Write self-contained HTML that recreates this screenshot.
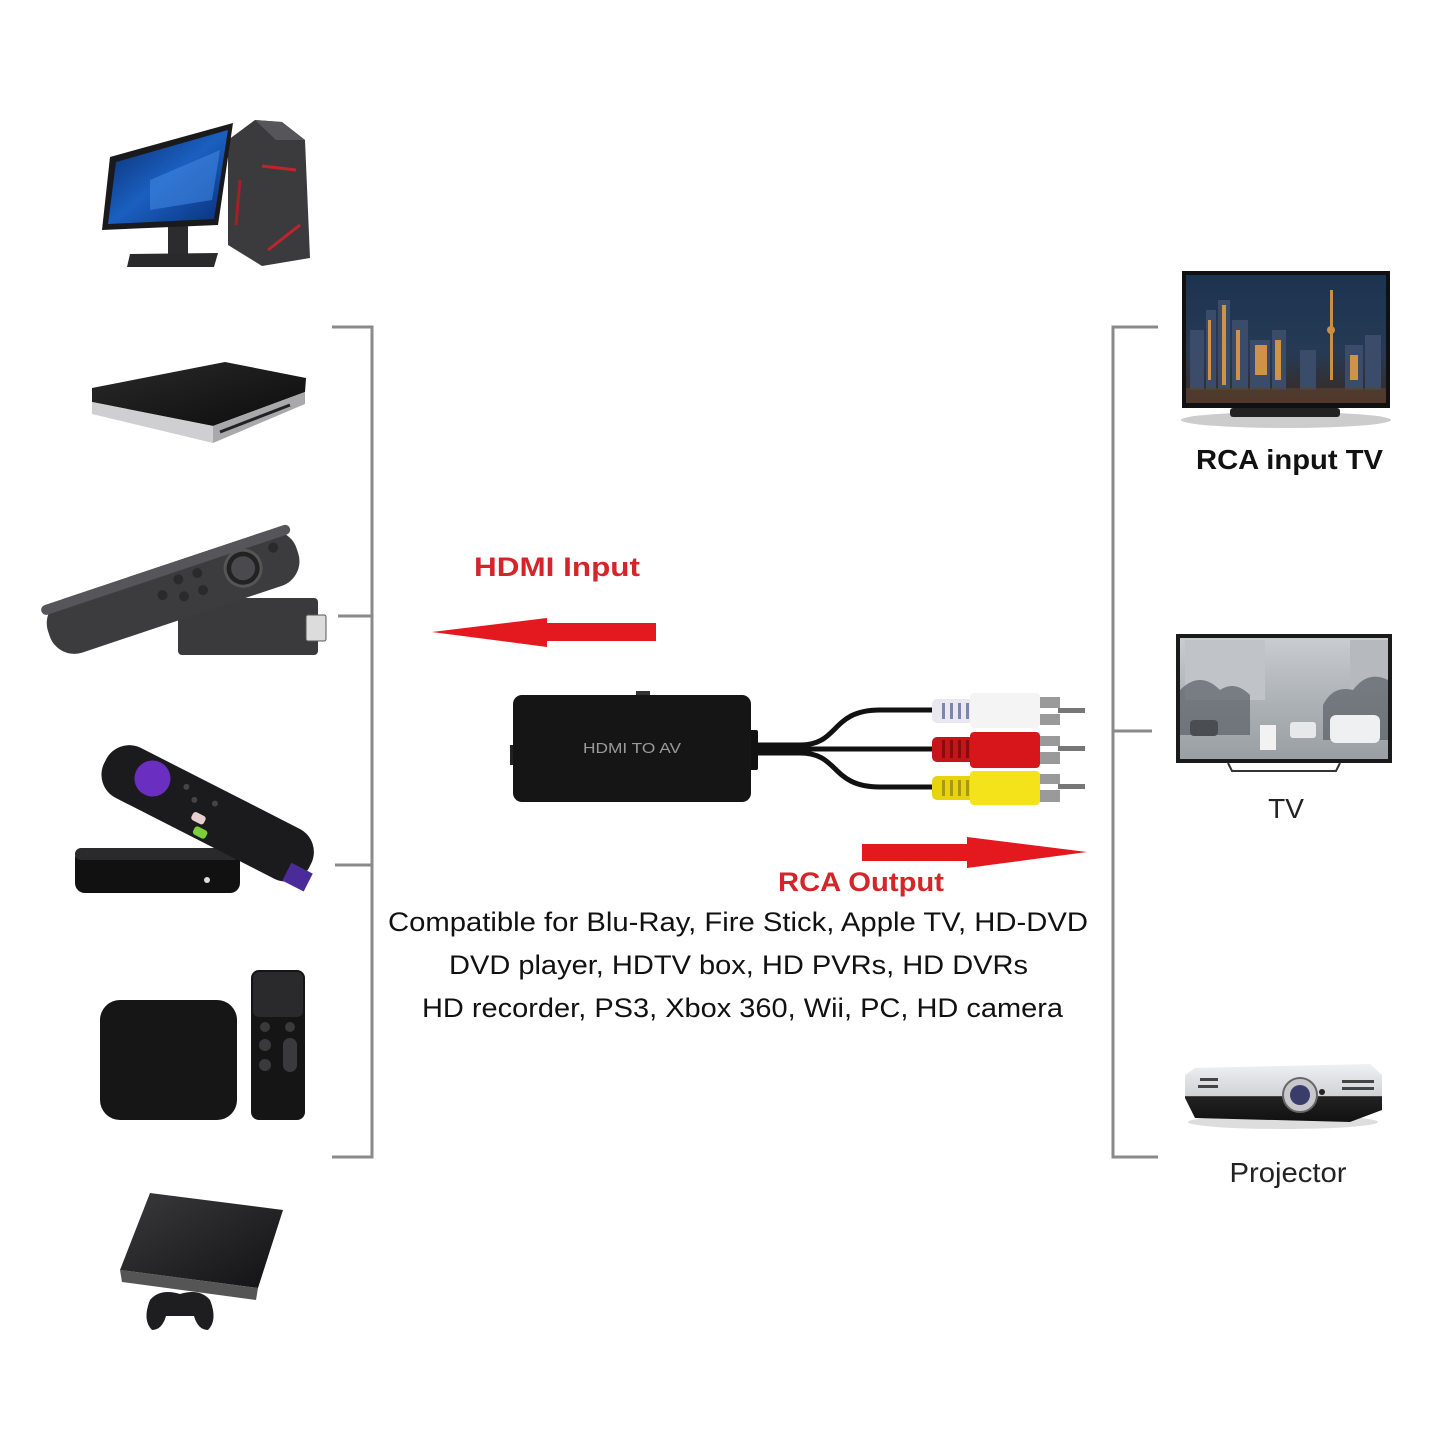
<!DOCTYPE html>
<html><head><meta charset="utf-8"><style>
html,body{margin:0;padding:0;background:#fff;}
svg{display:block;}
</style></head><body>
<svg width="1445" height="1445" viewBox="0 0 1445 1445" xmlns="http://www.w3.org/2000/svg">
<defs>
<linearGradient id="night" x1="0" y1="0" x2="0" y2="1"><stop offset="0" stop-color="#1c3350"/><stop offset="0.6" stop-color="#263a55"/><stop offset="1" stop-color="#3a2a20"/></linearGradient>
<linearGradient id="snow" x1="0" y1="0" x2="0" y2="1"><stop offset="0" stop-color="#c9ccd0"/><stop offset="0.5" stop-color="#aeb3b8"/><stop offset="1" stop-color="#9a9fa4"/></linearGradient>
<linearGradient id="win" x1="0" y1="0" x2="1" y2="1"><stop offset="0" stop-color="#0a2a6a"/><stop offset="0.5" stop-color="#1a5fc0"/><stop offset="1" stop-color="#0a2f7a"/></linearGradient>
<linearGradient id="proj" x1="0" y1="0" x2="0" y2="1"><stop offset="0" stop-color="#f0f0f2"/><stop offset="0.55" stop-color="#d0d2d6"/><stop offset="0.56" stop-color="#222"/><stop offset="1" stop-color="#111"/></linearGradient>
<linearGradient id="ps3" x1="0" y1="0" x2="1" y2="1"><stop offset="0" stop-color="#3a3a3c"/><stop offset="1" stop-color="#121214"/></linearGradient>
<linearGradient id="dvd" x1="0" y1="0" x2="1" y2="1"><stop offset="0" stop-color="#2a2a2a"/><stop offset="1" stop-color="#0c0c0c"/></linearGradient>
</defs>

<!-- Brackets -->
<g stroke="#8a8a8a" stroke-width="3" fill="none">
<polyline points="332,327 372,327 372,1157 332,1157"/>
<line x1="338" y1="616" x2="372" y2="616"/>
<line x1="335" y1="865" x2="372" y2="865"/>
<polyline points="1158,327 1113,327 1113,1157 1158,1157"/>
<line x1="1113" y1="731" x2="1152" y2="731"/>
</g>

<!-- PC -->
<polygon points="228,140 255,120 282,122 305,140 310,258 262,266 228,245" fill="#3b3b3e"/>
<polygon points="255,120 282,122 305,140 276,140" fill="#55555a"/>
<polyline points="262,166 296,170" stroke="#c0242a" stroke-width="3" fill="none"/>
<polyline points="268,250 300,225" stroke="#c0242a" stroke-width="3" fill="none"/>
<polyline points="240,180 236,225" stroke="#a32024" stroke-width="3" fill="none"/>
<rect x="168" y="222" width="20" height="34" fill="#2c2c2e"/>
<polygon points="130,254 218,253 214,267 127,267" fill="#2a2a2c"/>
<polygon points="110,157 233,123 218,225 102,230" fill="#1a1a1c"/>
<polygon points="116,162 228,130 214,219 108,224" fill="url(#win)"/>
<polygon points="150,180 220,150 212,200 150,210" fill="#3f86e0" opacity="0.6"/>

<!-- DVD player -->
<polygon points="92,388 225,362 306,378 305,392 213,426 92,402" fill="url(#dvd)"/>
<polygon points="92,402 213,426 213,443 92,414" fill="#cfcfd1"/>
<polygon points="213,426 305,392 305,404 213,443" fill="#a9a9ab"/>
<line x1="220" y1="432" x2="290" y2="405" stroke="#222" stroke-width="3"/>

<!-- Fire stick -->
<rect x="178" y="598" width="140" height="57" rx="4" fill="#3a3a3c"/>
<rect x="306" y="615" width="20" height="26" rx="2" fill="#dcdcdc" stroke="#555" stroke-width="1"/>
<g transform="translate(172,592) rotate(-18.5)">
<rect x="-130" y="-28" width="262" height="57" rx="26" fill="#3c3c3f"/>
<rect x="-130" y="-28" width="262" height="10" rx="5" fill="#56565a"/>
<circle cx="75" cy="0" r="18" fill="#222" stroke="#555" stroke-width="3"/>
<circle cx="75" cy="0" r="12" fill="#4a4a4e"/>
<circle cx="30" cy="-10" r="5" fill="#2a2a2c"/><circle cx="30" cy="8" r="5" fill="#2a2a2c"/>
<circle cx="10" cy="-10" r="5" fill="#2a2a2c"/><circle cx="10" cy="8" r="5" fill="#2a2a2c"/>
<circle cx="-10" cy="0" r="5" fill="#2a2a2c"/><circle cx="110" cy="-10" r="5" fill="#2a2a2c"/>
</g>

<!-- Roku -->
<rect x="75" y="848" width="165" height="45" rx="10" fill="#111"/>
<rect x="75" y="848" width="165" height="12" rx="6" fill="#2a2a2c"/>
<circle cx="207" cy="880" r="3" fill="#ddd"/>
<g transform="translate(205,812) rotate(27)">
<rect x="-112" y="-28" width="230" height="56" rx="26" fill="#1b1b1d"/>
<rect x="100" y="6" width="24" height="20" fill="#4b2a9a"/>
<circle cx="-62" cy="-6" r="18" fill="#6a2fc0"/>
<rect x="-10" y="4" width="14" height="9" rx="3" fill="#e8d0d0"/>
<rect x="-2" y="16" width="14" height="9" rx="3" fill="#7ccf3a"/>
<circle cx="-28" cy="-14" r="3" fill="#444"/><circle cx="-15" cy="-6" r="3" fill="#444"/><circle cx="5" cy="-12" r="3" fill="#444"/>
</g>

<!-- Apple TV -->
<rect x="100" y="1000" width="137" height="120" rx="20" fill="#161616"/>
<rect x="251" y="970" width="54" height="150" rx="8" fill="#151515"/>
<rect x="253" y="972" width="50" height="45" rx="6" fill="#2a2a2c"/>
<circle cx="265" cy="1027" r="5" fill="#3a3a3c"/><circle cx="290" cy="1027" r="5" fill="#3a3a3c"/>
<circle cx="265" cy="1045" r="6" fill="#3a3a3c"/><circle cx="265" cy="1065" r="6" fill="#3a3a3c"/>
<rect x="283" y="1038" width="14" height="34" rx="7" fill="#3a3a3c"/>

<!-- PS3 -->
<polygon points="150,1193 283,1210 258,1288 120,1270" fill="url(#ps3)"/>
<polygon points="120,1270 258,1288 256,1300 122,1282" fill="#555"/>
<path d="M150,1300 q10,-12 30,-6 q20,-6 30,6 q8,20 -2,30 q-10,0 -14,-14 h-28 q-4,14 -14,14 q-10,-10 -2,-30z" fill="#1e1e20"/>

<!-- HDMI Input label + arrow -->
<text x="474" y="576" font-family="'Liberation Sans',sans-serif" font-weight="bold" font-size="27" fill="#d3262b" textLength="166" lengthAdjust="spacingAndGlyphs">HDMI Input</text>
<polygon points="432,632 547,618 547,623 656,623 656,641 547,641 547,647" fill="#e3191f"/>

<!-- Adapter -->
<rect x="636" y="691" width="14" height="5" fill="#333"/>
<rect x="748" y="730" width="10" height="40" rx="2" fill="#111"/>
<rect x="510" y="745" width="6" height="20" fill="#222"/>
<rect x="513" y="695" width="238" height="107" rx="9" fill="#151515"/>
<text x="632" y="753" font-family="'Liberation Sans',sans-serif" font-size="15" fill="#9a9a9a" text-anchor="middle" textLength="98" lengthAdjust="spacingAndGlyphs">HDMI TO AV</text>

<!-- Cables -->
<g stroke="#111" stroke-width="5" fill="none" stroke-linecap="round">
<path d="M756,745 H800 C840,745 830,710 880,710 H935"/>
<path d="M756,749 H935"/>
<path d="M756,753 H800 C840,753 830,787 880,787 H935"/>
</g>

<!-- RCA plugs -->
<g>
<!-- white -->
<rect x="932" y="699" width="48" height="24" rx="5" fill="#e8e8ee"/>
<rect x="970" y="693" width="70" height="35" rx="4" fill="#f4f4f4"/>
<g fill="#7a86b0"><rect x="942" y="703" width="3" height="16"/><rect x="950" y="703" width="3" height="16"/><rect x="958" y="703" width="3" height="16"/><rect x="966" y="703" width="3" height="16"/></g>
<rect x="1040" y="697" width="20" height="28" fill="#9a9a9a"/>
<rect x="1040" y="708" width="20" height="6" fill="#fff"/>
<rect x="1058" y="708" width="27" height="5" fill="#777"/>
<!-- red -->
<rect x="932" y="737" width="48" height="25" rx="5" fill="#c5141a"/>
<rect x="970" y="732" width="70" height="36" rx="4" fill="#d7161c"/>
<g fill="#8a0a0e"><rect x="942" y="740" width="3" height="18"/><rect x="950" y="740" width="3" height="18"/><rect x="958" y="740" width="3" height="18"/><rect x="966" y="740" width="3" height="18"/></g>
<rect x="1040" y="736" width="20" height="28" fill="#9a9a9a"/>
<rect x="1040" y="746" width="20" height="6" fill="#fff"/>
<rect x="1058" y="746" width="27" height="5" fill="#777"/>
<!-- yellow -->
<rect x="932" y="776" width="48" height="24" rx="5" fill="#e8d40e"/>
<rect x="970" y="771" width="70" height="34" rx="4" fill="#f4e21a"/>
<g fill="#a89a10"><rect x="942" y="780" width="3" height="16"/><rect x="950" y="780" width="3" height="16"/><rect x="958" y="780" width="3" height="16"/><rect x="966" y="780" width="3" height="16"/></g>
<rect x="1040" y="774" width="20" height="28" fill="#9a9a9a"/>
<rect x="1040" y="784" width="20" height="6" fill="#fff"/>
<rect x="1058" y="784" width="27" height="5" fill="#777"/>
</g>

<!-- RCA Output arrow + label -->
<polygon points="862,844 967,844 967,837 1087,852 967,868 967,861 862,861" fill="#e3191f"/>
<text x="778" y="891" font-family="'Liberation Sans',sans-serif" font-weight="bold" font-size="27" fill="#d3262b" textLength="166" lengthAdjust="spacingAndGlyphs">RCA Output</text>

<!-- Compatible text -->
<g font-family="'Liberation Sans',sans-serif" font-size="27" fill="#111" lengthAdjust="spacingAndGlyphs">
<text x="388" y="931" textLength="700" lengthAdjust="spacingAndGlyphs">Compatible for Blu-Ray, Fire Stick, Apple TV, HD-DVD</text>
<text x="449" y="974" textLength="579" lengthAdjust="spacingAndGlyphs">DVD player, HDTV box, HD PVRs, HD DVRs</text>
<text x="422" y="1017" textLength="641" lengthAdjust="spacingAndGlyphs">HD recorder, PS3, Xbox 360, Wii, PC, HD camera</text>
</g>

<!-- TV 1 (night city) -->
<ellipse cx="1286" cy="420" rx="105" ry="8" fill="#ccc"/>
<rect x="1182" y="271" width="208" height="137" fill="#111"/>
<rect x="1186" y="275" width="200" height="128" fill="url(#night)"/>
<g fill="#3a4c6a">
<rect x="1190" y="330" width="14" height="60"/><rect x="1206" y="310" width="10" height="80"/><rect x="1218" y="300" width="12" height="90"/>
<rect x="1232" y="320" width="16" height="70"/><rect x="1250" y="340" width="20" height="50"/><rect x="1272" y="330" width="14" height="60"/>
<rect x="1300" y="350" width="16" height="40"/><rect x="1345" y="345" width="18" height="45"/><rect x="1365" y="335" width="16" height="55"/>
</g>
<g fill="#e8a040" opacity="0.85">
<rect x="1208" y="320" width="3" height="60"/><rect x="1222" y="305" width="4" height="80"/><rect x="1255" y="345" width="12" height="30"/>
<rect x="1236" y="330" width="4" height="50"/><rect x="1275" y="340" width="6" height="40"/><rect x="1350" y="355" width="8" height="25"/>
<rect x="1330" y="290" width="3" height="90"/><circle cx="1331" cy="330" r="4"/>
</g>
<rect x="1186" y="388" width="200" height="15" fill="#5a4030" opacity="0.7"/>
<rect x="1230" y="408" width="110" height="9" rx="3" fill="#222"/>

<text x="1196" y="469" font-family="'Liberation Sans',sans-serif" font-weight="bold" font-size="28" fill="#111" textLength="187" lengthAdjust="spacingAndGlyphs">RCA input TV</text>

<!-- TV 2 (snow) -->
<rect x="1176" y="634" width="216" height="129" fill="#1a1a1a"/>
<rect x="1180" y="638" width="208" height="121" fill="url(#snow)"/>
<rect x="1185" y="640" width="80" height="60" fill="#c0c4c8"/>
<rect x="1350" y="640" width="38" height="50" fill="#b6babe"/>
<path d="M1180,690 q20,-20 40,0 q15,-10 30,5 l0,40 h-70z" fill="#5a6066" opacity="0.7"/>
<path d="M1388,680 q-20,-10 -35,10 q-20,-5 -30,15 l0,35 h65z" fill="#5a6066" opacity="0.7"/>
<rect x="1190" y="720" width="28" height="16" rx="4" fill="#4a4e52"/>
<rect x="1330" y="715" width="50" height="28" rx="6" fill="#eef0f2"/>
<rect x="1290" y="722" width="26" height="16" rx="3" fill="#e6e8ea"/>
<rect x="1260" y="725" width="16" height="25" fill="#f2f2f2"/>
<path d="M1228,763 l4,8 h104 l4,-8" stroke="#333" stroke-width="2" fill="none"/>

<text x="1286" y="818" font-family="'Liberation Sans',sans-serif" font-size="28" fill="#222" text-anchor="middle">TV</text>

<!-- Projector -->
<ellipse cx="1283" cy="1122" rx="95" ry="7" fill="#ddd"/>
<polygon points="1195,1068 1370,1064 1382,1075 1382,1110 1350,1122 1195,1118 1185,1098 1185,1075" fill="url(#proj)"/>
<circle cx="1300" cy="1095" r="17" fill="#c8c8cc" stroke="#666" stroke-width="2"/>
<circle cx="1300" cy="1095" r="10" fill="#3a3d6a"/>
<g fill="#444"><rect x="1342" y="1080" width="32" height="3"/><rect x="1342" y="1087" width="32" height="3"/><rect x="1200" y="1078" width="18" height="3"/><rect x="1198" y="1085" width="20" height="3"/></g>
<circle cx="1322" cy="1092" r="3" fill="#222"/>

<text x="1288" y="1182" font-family="'Liberation Sans',sans-serif" font-size="28" fill="#222" text-anchor="middle" textLength="117" lengthAdjust="spacingAndGlyphs">Projector</text>
</svg>
</body></html>
